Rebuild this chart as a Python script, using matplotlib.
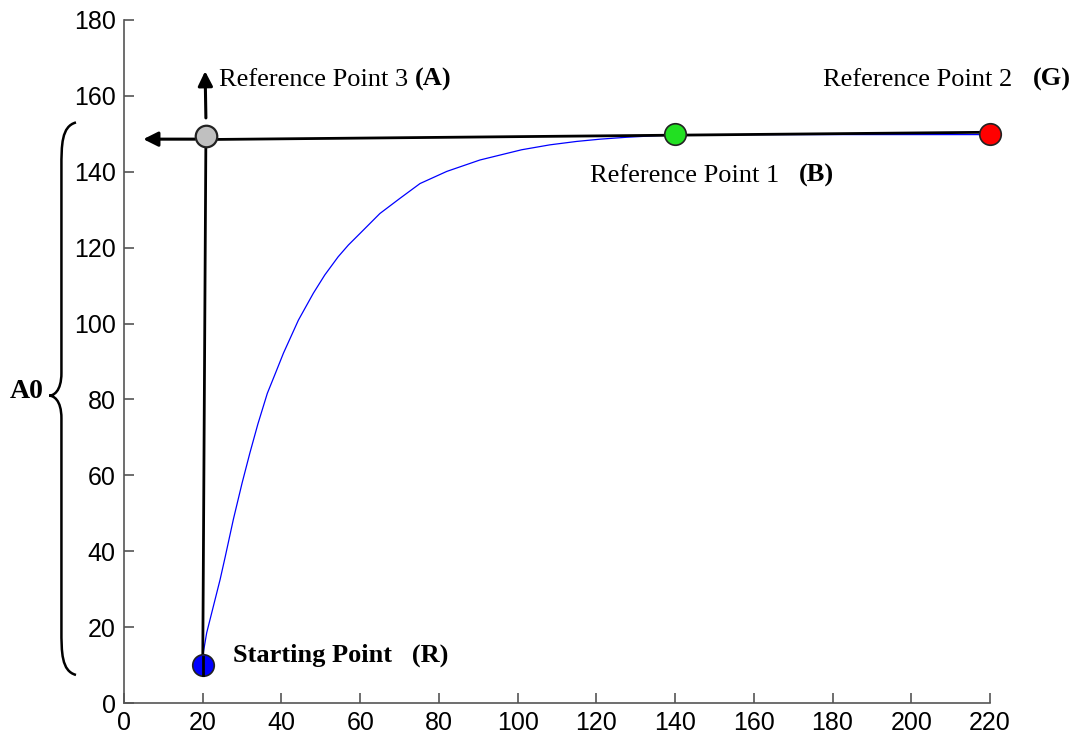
import matplotlib.pyplot as plt
from matplotlib.path import Path
from matplotlib.patches import PathPatch

# response curve read at sample positions
curve_x = [20.0, 20.1, 21.0, 22.7, 24.4, 25.7, 27.8, 30.0, 32.0, 34.0, 36.4, 38.5,
           40.5, 44.3, 48.1, 51.0, 54.4, 57.0, 60.0, 65.0, 70.1, 75.2, 82.0, 90.4,
           95.5, 101.0, 108.2, 115.0, 121.0, 127.7, 135.0, 140.0, 160.0, 180.0,
           200.0, 220.0]
curve_y = [10.0, 13.0, 18.5, 25.5, 32.5, 38.5, 48.5, 58.0, 66.0, 73.5, 81.6, 87.0,
           92.2, 100.9, 108.0, 112.8, 117.6, 120.7, 123.8, 129.0, 133.0, 136.9,
           140.1, 143.1, 144.4, 145.8, 147.1, 148.0, 148.6, 149.1, 149.5, 149.7,
           149.8, 149.8, 149.8, 149.8]

# reference points
start_pt = (20, 10)
ref1_pt = (140, 150)
ref2_pt = (220, 150)
ref3_pt = (20.8, 149.4)

# construction lines
vline_x = [20.0, 20.8]
vline_y = [10.0, 149.4]
hline_x = [21.0, 218.0]
hline_y = [148.5, 150.4]

plt.rcParams['font.family'] = ['Liberation Sans', 'DejaVu Sans']
serif = ['Liberation Serif', 'DejaVu Serif']

fig = plt.figure(figsize=(10.86, 7.38), dpi=100)
ax = fig.add_axes([0.1142, 0.0474, 0.7974, 0.9255])

ax.plot(curve_x, curve_y, color='#0000ff', lw=0.9, zorder=2)
ax.plot(vline_x, vline_y, color='black', lw=2, zorder=3)
ax.plot(hline_x, hline_y, color='black', lw=2, zorder=3)

ms = 15.5
ax.plot(*ref3_pt, 'o', ms=ms, mfc='#c0c0c0', mec='#222222', mew=1.6, zorder=4)
ax.plot(*ref1_pt, 'o', ms=ms, mfc='#22e022', mec='#222222', mew=1.2, zorder=4)
ax.plot(*ref2_pt, 'o', ms=ms, mfc='#ff0000', mec='#222222', mew=1.2, zorder=4, clip_on=False)
ax.plot(*start_pt, 'o', ms=ms, mfc='#0000ff', mec='#222222', mew=1.2, zorder=4)
# vertical line is drawn over the start marker
ax.plot([20.0, 20.0], [7.5, 12], color='black', lw=2, zorder=5)

arrow = dict(arrowstyle='-|>', color='black', lw=2.2, mutation_scale=22,
             shrinkA=0, shrinkB=0)
ax.annotate('', xy=(4.9, 148.6), xytext=(18.0, 148.6), arrowprops=arrow)
ax.annotate('', xy=(20.6, 166.5), xytext=(20.8, 154.2), arrowprops=arrow)

fs = 19
ax.text(24.1, 162.6, 'Reference Point 3 ', family=serif, fontsize=fs, va='baseline')
t = ax.text(24.1, 162.6, 'Reference Point 3 ', family=serif, fontsize=fs,
            va='baseline', alpha=0)
ax.annotate('(A)', xycoords=t, xy=(1, 0), va='bottom', family=serif, fontsize=fs,
            fontweight='bold')

ax.text(177.7, 162.6, 'Reference Point 2   ', family=serif, fontsize=fs, va='baseline')
t2 = ax.text(177.7, 162.6, 'Reference Point 2   ', family=serif, fontsize=fs,
             va='baseline', alpha=0)
ax.annotate('(G)', xycoords=t2, xy=(1, 0), va='bottom', family=serif, fontsize=fs,
            fontweight='bold', annotation_clip=False)

ax.text(118.4, 137.4, 'Reference Point 1   ', family=serif, fontsize=fs, va='baseline')
t1 = ax.text(118.4, 137.4, 'Reference Point 1   ', family=serif, fontsize=fs,
             va='baseline', alpha=0)
ax.annotate('(B)', xycoords=t1, xy=(1, 0), va='bottom', family=serif, fontsize=fs,
            fontweight='bold')

ax.text(27.8, 10.9, 'Starting Point   (R)', family=serif, fontsize=fs,
        fontweight='bold', va='baseline')

# curly brace spanning the rise, left of the y axis
bx_out, bx_mid, bx_tip = -12.2, -15.9, -19.0
y_top, y_bot, y_tip = 153.0, 7.4, 81.0
verts = [
    (bx_out, y_top),
    (bx_mid, y_top - 1), (bx_mid, y_top - 6), (bx_mid, y_top - 12),
    (bx_mid, y_tip + 6),
    (bx_mid, y_tip + 1), (bx_tip + 1, y_tip), (bx_tip, y_tip),
    (bx_tip + 1, y_tip), (bx_mid, y_tip - 1), (bx_mid, y_tip - 6),
    (bx_mid, y_bot + 12),
    (bx_mid, y_bot + 6), (bx_mid, y_bot + 1), (bx_out, y_bot),
]
codes = [Path.MOVETO,
         Path.CURVE4, Path.CURVE4, Path.CURVE4,
         Path.LINETO,
         Path.CURVE4, Path.CURVE4, Path.CURVE4,
         Path.CURVE4, Path.CURVE4, Path.CURVE4,
         Path.LINETO,
         Path.CURVE4, Path.CURVE4, Path.CURVE4]
brace = PathPatch(Path(verts, codes), fill=False, lw=1.8, color='black',
                  clip_on=False)
ax.add_patch(brace)
ax.text(-20.3, 82.0, 'A0', family=serif, fontsize=20, fontweight='bold',
        ha='right', va='center')

ax.set_xlim(0, 220)
ax.set_ylim(0, 180)
ax.set_xticks(range(0, 221, 20))
ax.set_yticks(range(0, 181, 20))
ax.spines['top'].set_visible(False)
ax.spines['right'].set_visible(False)
for s in ('left', 'bottom'):
    ax.spines[s].set_color('#555555')
    ax.spines[s].set_linewidth(1.2)
ax.tick_params(direction='in', length=7, width=1.2, color='#555555',
               labelsize=18, pad=6)

fig.savefig('out.png', dpi=100)
